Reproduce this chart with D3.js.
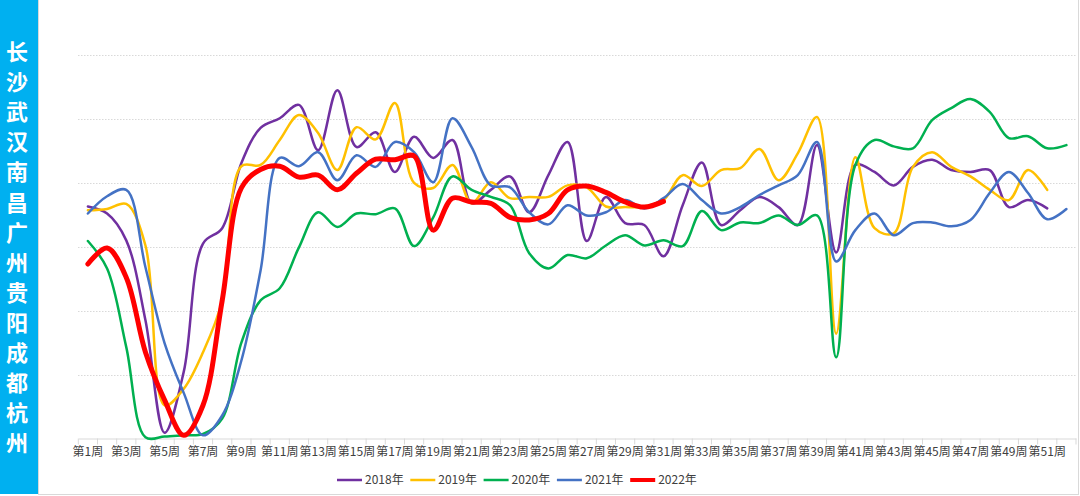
<!DOCTYPE html>
<html>
<head>
<meta charset="utf-8">
<title>weekly lines</title>
<script src="https://d3js.org/d3.v7.min.js"></script>
<style>
  body { margin: 0; background: #fff; }
  svg { display: block; }
</style>
</head>
<body>
<svg width="1080" height="496"></svg>
<script>
// 周次
var weeks = d3.range(1, 53);
var weekLabels = weeks.map(function (w) { return "第" + w + "周"; });

// 各年数据
var s2018 = [36.3, 35.2, 31.0, 18.5, 0.9, 10.5, 30.5, 32.9, 43.1, 48.6, 50.1, 52.2, 45.1, 54.5, 45.6, 47.9, 41.7, 47.2, 43.9, 46.7,
  36.8, 38.9, 41.0, 35.4, 41.2, 46.4, 30.9, 37.8, 33.7, 33.4, 28.5, 36.5, 43.2, 33.4, 35.7, 37.8, 36.2, 33.4, 45.9, 29.1,
  42.8, 41.7, 39.6, 42.5, 43.6, 42.0, 41.7, 42.0, 36.2, 37.3, 36.0];
var s2019 = [35.7, 35.9, 36.7, 30.2, 5.2, 7.8, 13.5, 21.6, 42.6, 42.8, 46.7, 50.6, 47.8, 42.0, 48.7, 46.8, 52.5, 40.0, 39.2, 42.8,
  36.8, 40.1, 37.6, 37.8, 37.8, 39.6, 39.3, 36.3, 36.2, 36.3, 37.3, 41.2, 39.5, 42.0, 42.3, 45.3, 40.4, 44.6, 50.3, 16.4,
  44.0, 32.9, 32.1, 42.5, 44.8, 42.5, 41.0, 38.9, 37.3, 42.0, 38.9];
var s2020 = [30.9, 26.6, 14.3, 0.2, 0.3, 0.5, 0.7, 3.1, 15.0, 21.6, 23.5, 29.9, 35.4, 33.1, 35.2, 35.1, 36.0, 30.1, 34.6, 41.0,
  38.9, 37.8, 36.5, 29.0, 26.6, 28.7, 28.2, 30.2, 31.8, 30.2, 31.0, 30.1, 35.6, 32.6, 33.8, 33.7, 34.9, 33.4, 34.9, 12.7,
  42.8, 46.7, 45.7, 45.4, 49.8, 51.7, 53.1, 51.1, 47.0, 47.3, 45.4, 45.9];
var s2021 = [35.2, 37.9, 38.9, 26.8, 14.9, 7.1, 0.5, 3.6, 12.2, 26.3, 43.9, 42.6, 44.8, 40.4, 44.3, 42.5, 46.4, 44.8, 40.1, 50.1,
  45.6, 39.6, 39.3, 35.4, 33.5, 36.5, 34.9, 35.4, 37.3, 36.0, 37.6, 39.8, 37.3, 35.2, 36.2, 38.1, 39.6, 41.2, 46.4, 27.7,
  32.6, 35.2, 31.8, 33.7, 33.8, 33.2, 34.2, 38.4, 41.7, 38.4, 34.3, 35.9];
var s2022 = [27.3, 29.8, 25.2, 13.5, 6.0, 0.5, 5.2, 21.6, 39.2, 42.1, 42.6, 40.9, 41.2, 38.9, 41.5, 43.7, 43.6, 44.2, 32.6, 37.6,
  37.0, 36.8, 34.6, 34.2, 35.2, 38.9, 39.5, 38.5, 37.0, 36.2, 37.1];

var seriesNames = ["2018年", "2019年", "2020年", "2021年", "2022年"];
var seriesData = [s2018, s2019, s2020, s2021, s2022];
var seriesColors = ["#7030A0", "#FFC000", "#00B050", "#4472C4", "#FF0000"];
var seriesWidths = [2.5, 2.5, 2.5, 2.5, 5];

var yTicks = [0, 10, 20, 30, 40, 50, 60];
var sideTitle = "长沙武汉南昌广州贵阳成都杭州";

var svg = d3.select("svg");

// 外框
svg.append("rect")
  .attr("x", 38.5).attr("y", -1)
  .attr("width", 1040).attr("height", 495.5)
  .attr("fill", "none").attr("stroke", "#d9d9d9");

// 左侧蓝条
svg.append("rect")
  .attr("x", 0).attr("y", 0)
  .attr("width", 38).attr("height", 494)
  .attr("fill", "#00B0F0");

var side = svg.append("text")
  .attr("fill", "#fff")
  .attr("font-family", "'Noto Sans CJK SC', sans-serif")
  .attr("font-weight", "bold")
  .attr("font-size", 22)
  .attr("text-anchor", "middle");
side.selectAll("tspan")
  .data(sideTitle.split(""))
  .enter()
  .append("tspan")
  .attr("x", 17)
  .attr("y", function (d, i) { return 52 + i * 30.1 + 8; })
  .text(function (d) { return d; });

// 比例尺
var x = d3.scaleBand().domain(weeks).range([78.3, 1076]).padding(0);
var y = d3.scaleLinear().domain([0, 60]).range([438.5, 55]);
var cx = function (w) { return x(w) + x.bandwidth() / 2; };

// 网格线
svg.append("g")
  .selectAll("line")
  .data(yTicks.slice(1))
  .enter()
  .append("line")
  .attr("x1", 78).attr("x2", 1077)
  .attr("y1", function (d) { return Math.round(y(d)) + 0.5; })
  .attr("y2", function (d) { return Math.round(y(d)) + 0.5; })
  .attr("stroke", "#d9d9d9")
  .attr("stroke-dasharray", "1.5,1.5");

// x 轴
var xAxis = d3.axisBottom(x)
  .tickValues(weeks.filter(function (w) { return w % 2 === 1; }))
  .tickFormat(function (w) { return weekLabels[w - 1]; })
  .tickSize(0)
  .tickPadding(9);
var gx = svg.append("g")
  .attr("transform", "translate(0," + y(0) + ")")
  .call(xAxis);
gx.select(".domain").attr("stroke", "#d9d9d9");
gx.selectAll("text")
  .attr("fill", "#404040")
  .attr("font-size", 12)
  .attr("font-family", "'Noto Sans CJK SC', sans-serif");

// 刻度线（每个分类边界）
gx.append("g")
  .selectAll("line")
  .data(weeks.concat([53]))
  .enter()
  .append("line")
  .attr("x1", function (w) { return (w <= 52 ? x(w) : x(52) + x.bandwidth()); })
  .attr("x2", function (w) { return (w <= 52 ? x(w) : x(52) + x.bandwidth()); })
  .attr("y1", 0).attr("y2", 6)
  .attr("stroke", "#d9d9d9");

// 折线
var line = d3.line()
  .x(function (d, i) { return cx(weeks[i]); })
  .y(function (d) { return y(d); })
  .curve(d3.curveCatmullRom.alpha(0.5));

svg.append("g")
  .selectAll("path")
  .data(seriesData)
  .enter()
  .append("path")
  .attr("d", function (d) { return line(d); })
  .attr("fill", "none")
  .attr("stroke", function (d, i) { return seriesColors[i]; })
  .attr("stroke-width", function (d, i) { return seriesWidths[i]; })
  .attr("stroke-linecap", "round")
  .attr("stroke-linejoin", "round");

// 图例
var legend = svg.append("g")
  .selectAll("g")
  .data(seriesNames)
  .enter()
  .append("g")
  .attr("transform", function (d, i) { return "translate(" + (337 + i * 73.3) + ",480)"; });
legend.append("line")
  .attr("x1", 0).attr("x2", 25)
  .attr("stroke", function (d, i) { return seriesColors[i]; })
  .attr("stroke-width", function (d, i) { return i === 4 ? 4 : 2.5; });
legend.append("text")
  .attr("x", 28)
  .attr("dy", "0.35em")
  .attr("fill", "#404040")
  .attr("font-size", 12)
  .attr("font-family", "'Noto Sans CJK SC', sans-serif")
  .text(function (d) { return d; });
</script>
</body>
</html>
